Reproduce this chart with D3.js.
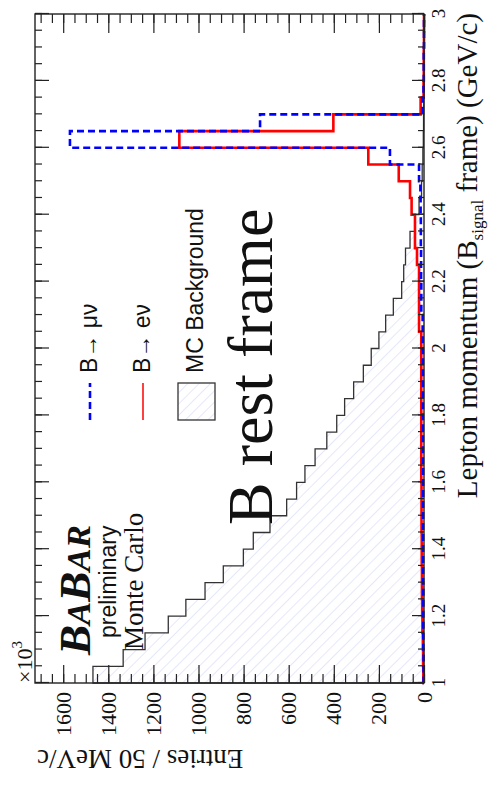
<!DOCTYPE html>
<html><head><meta charset="utf-8">
<script src="https://cdn.jsdelivr.net/npm/d3@7"></script>
<style>body{margin:0;background:#fff}svg{display:block}</style>
</head><body>
<svg id="c" width="488" height="787"></svg>
<script>
// ---- data ----
const binEdges = [1.00,1.05,1.10,1.15,1.20,1.25,1.30,1.35,1.40,1.45,1.50,1.55,1.60,1.65,1.70,1.75,1.80,1.85,1.90,1.95,
                  2.00,2.05,2.10,2.15,2.20,2.25,2.30,2.35,2.40,2.45,2.50,2.55,2.60,2.65,2.70,2.75,2.80,2.85,2.90,2.95,3.00];
const mcBackground = [1468,1334,1237,1134,1056,971,890,801,757,683,609,565,528,483,431,387,352,312,269,234,
                      200,170,136,99,90,82,62,40,22,11,8,5,3,2,1,0,0,0,0,0];
const bToENu = [3,4,5,7,8,9,9,10,10,11,11,11,12,12,12,12,12,12,12,12,
                12,22,22,22,22,31,40,40,55,62,112,247,1085,402,15,2,1,1,0,0];
const bToMuNu = [2,2,3,3,3,3,4,4,4,4,4,4,4,5,5,5,5,5,5,5,
                 6,6,12,12,13,13,14,14,15,16,22,151,1570,727,6,2,1,1,0,0];
const momentumTicks = [1,1.2,1.4,1.6,1.8,2,2.2,2.4,2.6,2.8,3];
const momentumTickLabels = ["1","1.2","1.4","1.6","1.8","2","2.2","2.4","2.6","2.8","3"];
const momentumMinor = binEdges;
const entriesTicks = [0,200,400,600,800,1000,1200,1400,1600];
const entriesTickLabels = ["0","200","400","600","800","1000","1200","1400","1600"];
const entriesMinor = [0,50,100,150,200,250,300,350,400,450,500,550,600,650,700,750,800,850,900,950,1000,
                      1050,1100,1150,1200,1250,1300,1350,1400,1450,1500,1550,1600,1650,1700];

// ---- layout ----
const W = 488, H = 787;
const SERIF = "'Liberation Serif','Times New Roman',serif";
const SANS = "'Liberation Sans',Arial,sans-serif";
const svg = d3.select("#c");
const defs = svg.append("defs");
defs.append("pattern").attr("id","hatch").attr("patternUnits","userSpaceOnUse")
  .attr("width",8).attr("height",8).attr("patternTransform","rotate(-45)")
  .append("line").attr("x1",0).attr("y1",0).attr("x2",0).attr("y2",8)
  .attr("stroke","#d6dcf6").attr("stroke-width",1.3);

// chart drawn in its natural (landscape) orientation, then rotated
const g = svg.append("g").attr("transform", `translate(0,${H}) rotate(-90)`);
const x = d3.scaleLinear().domain([1,3]).range([104,773]);
const y = d3.scaleLinear().domain([0,1725]).range([424,35]);

function steps(vals){
  const pts = [[binEdges[0],0]];
  vals.forEach((v,i)=>{ pts.push([binEdges[i],v]); pts.push([binEdges[i+1],v]); });
  pts.push([binEdges[binEdges.length-1],0]);
  return pts;
}
const line = d3.line().x(d=>x(d[0])).y(d=>y(d[1]));
const area = d3.area().x(d=>x(d[0])).y0(y(0)).y1(d=>y(d[1]));

g.append("path").attr("d", area(steps(mcBackground))).attr("fill","url(#hatch)");
g.append("path").attr("d", line(steps(mcBackground))).attr("fill","none")
  .attr("stroke","#333").attr("stroke-width",1.3);
g.append("path").attr("d", line(steps(bToENu))).attr("fill","none")
  .attr("stroke","#ff0000").attr("stroke-width",2.6);
g.append("path").attr("d", line(steps(bToMuNu))).attr("fill","none")
  .attr("stroke","#0000ff").attr("stroke-width",2.6).attr("stroke-dasharray","7,4");

// ---- axes ----
function styleAxis(sel){
  sel.select(".domain").remove();
  sel.selectAll(".tick line").attr("stroke","#222").attr("stroke-width",1.2);
}
g.append("g").attr("transform","translate(0,424)")
  .call(d3.axisBottom(x).tickValues(momentumMinor).tickSizeInner(-6).tickSizeOuter(0).tickFormat(""))
  .call(styleAxis);
const xb = g.append("g").attr("transform","translate(0,424)")
  .call(d3.axisBottom(x).tickValues(momentumTicks).tickSizeInner(-12).tickSizeOuter(0).tickPadding(8)
        .tickFormat((d,i)=>momentumTickLabels[i]))
  .call(styleAxis);
xb.selectAll("text").attr("font-family",SERIF).attr("font-size",19).attr("fill","#111");
g.append("g").attr("transform","translate(0,35)")
  .call(d3.axisTop(x).tickValues(momentumMinor).tickSizeInner(-7).tickSizeOuter(0).tickFormat(""))
  .call(styleAxis);
g.append("g").attr("transform","translate(0,35)")
  .call(d3.axisTop(x).tickValues(momentumTicks).tickSizeInner(-14).tickSizeOuter(0).tickFormat(""))
  .call(styleAxis);
g.append("g").attr("transform","translate(104,0)")
  .call(d3.axisLeft(y).tickValues(entriesMinor).tickSizeInner(-9).tickSizeOuter(0).tickFormat(""))
  .call(styleAxis);
const yl = g.append("g").attr("transform","translate(104,0)")
  .call(d3.axisLeft(y).tickValues(entriesTicks).tickSizeInner(-18).tickSizeOuter(0).tickPadding(9)
        .tickFormat((d,i)=>entriesTickLabels[i]))
  .call(styleAxis);
yl.selectAll("text").attr("font-family",SERIF).attr("font-size",22).attr("fill","#111");
g.append("g").attr("transform","translate(773,0)")
  .call(d3.axisRight(y).tickValues(entriesMinor).tickSizeInner(-9).tickSizeOuter(0).tickFormat(""))
  .call(styleAxis);
g.append("g").attr("transform","translate(773,0)")
  .call(d3.axisRight(y).tickValues(entriesTicks).tickSizeInner(-19).tickSizeOuter(0).tickFormat(""))
  .call(styleAxis);

// frame
g.append("rect").attr("x",x(1)).attr("y",y(1725)).attr("width",x(3)-x(1)).attr("height",y(0)-y(1725))
  .attr("fill","none").attr("stroke","#222").attr("stroke-width",1.4);

// axis titles
const xt = g.append("text").attr("x",774).attr("y",477).attr("text-anchor","end")
  .attr("font-family",SERIF).attr("font-size",29).attr("fill","#111");
xt.append("tspan").text("Lepton momentum (B");
xt.append("tspan").attr("font-size",17).attr("dy",6).text("signal");
xt.append("tspan").attr("dy",-6).text(" frame) (GeV/c)");

g.append("text").attr("transform","translate(37,37) rotate(-90)").attr("text-anchor","end")
  .attr("font-family",SERIF).attr("font-size",27).attr("fill","#111").text("Entries / 50 MeV/c");

const ex = g.append("text").attr("x",104).attr("y",32).attr("font-family",SERIF).attr("font-size",22).attr("fill","#111");
ex.append("tspan").text("×10");
ex.append("tspan").attr("font-size",15).attr("dy",-10).text("3");

// legend
const legendLabels = ["B→ μν","B→ eν","MC Background"];
const legY = [90,143,196];
g.append("line").attr("x1",367).attr("x2",404).attr("y1",legY[0]).attr("y2",legY[0])
  .attr("stroke","#0000ff").attr("stroke-width",2.6).attr("stroke-dasharray","7,4");
g.append("line").attr("x1",367).attr("x2",404).attr("y1",legY[1]).attr("y2",legY[1])
  .attr("stroke","#ff0000").attr("stroke-width",1.5);
g.append("rect").attr("x",367).attr("y",legY[2]-18).attr("width",37).attr("height",37)
  .attr("fill","url(#hatch)").attr("stroke","#333").attr("stroke-width",1.3);
legendLabels.forEach((t,i)=>{
  g.append("text").attr("x",414).attr("y",legY[i]+7).attr("font-family",SANS).attr("font-size",23)
    .attr("fill","#111").text(t);
});

// annotations
g.append("text").attr("x",262).attr("y",272).attr("font-family",SERIF).attr("font-size",64)
  .attr("fill","#111").text("B rest frame");
const bb = g.append("text").attr("x",132).attr("y",90).attr("font-family",SERIF).attr("font-size",44)
  .attr("font-style","italic").attr("font-weight","bold").attr("fill","#111")
  .attr("textLength",130).attr("lengthAdjust","spacingAndGlyphs");
[["B",44],["A",34],["B",44],["A",34],["R",34]].forEach(([c,s])=>bb.append("tspan").attr("font-size",s).text(c));
g.append("text").attr("x",149).attr("y",116).attr("font-family",SANS).attr("font-size",23)
  .attr("fill","#111").text("preliminary");
g.append("text").attr("x",137).attr("y",143).attr("font-family",SERIF).attr("font-size",27)
  .attr("fill","#111").text("Monte Carlo");
</script>
</body></html>
